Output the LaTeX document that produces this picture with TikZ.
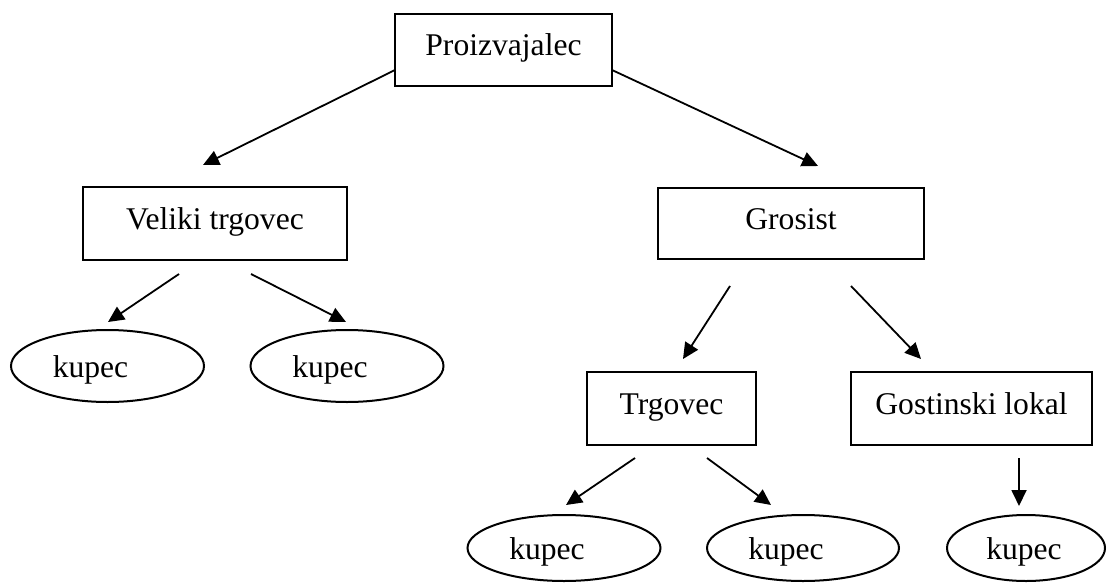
\documentclass[tikz,border=0pt]{standalone}
\usepackage{fontspec}
\setmainfont{Liberation Serif}
\usetikzlibrary{shapes.geometric,arrows.meta}
\tikzset{
  box/.style={draw, line width=2pt, inner sep=0pt, minimum height=73pt,
    text height=22pt, text depth=10pt},
  buyer/.style={draw, ellipse, line width=2pt, inner sep=0pt,
    minimum width=193pt, minimum height=72pt, text height=22pt, text depth=0pt},
  arr/.style={line width=1.8pt, -{Triangle[length=16pt,width=15pt]}}
}
\begin{document}
\begin{tikzpicture}[x=1pt, y=-1pt, font=\fontsize{31.6}{38}\selectfont]
  \useasboundingbox (0,0) rectangle (1107,583);

  % Proizvajalec (vrh)
  \node [box, minimum width=217pt, minimum height=72pt] (proizv) at (503.5,50) {Proizvajalec};

  % druga raven
  \node [box, minimum width=264pt] (veliki) at (215,223.5) {Veliki trgovec};
  \node [box, minimum width=266pt, minimum height=71pt] (grosist) at (791,223.5) {Grosist};

  % tretja raven
  \node [box, minimum width=169pt] (trgovec) at (671.5,408.5) {Trgovec};
  \node [box, minimum width=241pt] (lokal) at (971.5,408.5) {Gostinski lokal};

  % kupci
  \node [buyer] (kupecA) at (107.5,366) {kupec\hspace*{34pt}};
  \node [buyer] (kupecB) at (347,366) {kupec\hspace*{34pt}};
  \node [buyer, minimum height=66pt] (kupecC) at (564,548) {kupec\hspace*{34pt}};
  \node [buyer, minimum height=66pt, minimum width=192pt] (kupecD) at (803,548) {kupec\hspace*{34pt}};
  \node [buyer, minimum height=66pt, minimum width=158pt] (kupecE) at (1026,548) {kupec\hspace*{4pt}};

  % konci puscic
  \coordinate (pL) at (395,70);   \coordinate (vT) at (203,165);
  \coordinate (pR) at (612,70);   \coordinate (gT) at (818,166);
  \coordinate (vL) at (179,274);  \coordinate (aT) at (108,322);
  \coordinate (vR) at (251,274);  \coordinate (bT) at (346,322);
  \coordinate (gL) at (730,286);  \coordinate (tT) at (683,359);
  \coordinate (gR) at (851,286);  \coordinate (lT) at (921,359);
  \coordinate (tL) at (635,458);  \coordinate (cT) at (566,505);
  \coordinate (tR) at (707,458);  \coordinate (dT) at (771,505);
  \coordinate (lB) at (1019,458); \coordinate (eT) at (1019,506);

  % puscice
  \draw [arr] (pL) -- (vT);
  \draw [arr] (pR) -- (gT);
  \draw [arr] (vL) -- (aT);
  \draw [arr] (vR) -- (bT);
  \draw [arr] (gL) -- (tT);
  \draw [arr] (gR) -- (lT);
  \draw [arr] (tL) -- (cT);
  \draw [arr] (tR) -- (dT);
  \draw [arr] (lB) -- (eT);
\end{tikzpicture}
\end{document}
